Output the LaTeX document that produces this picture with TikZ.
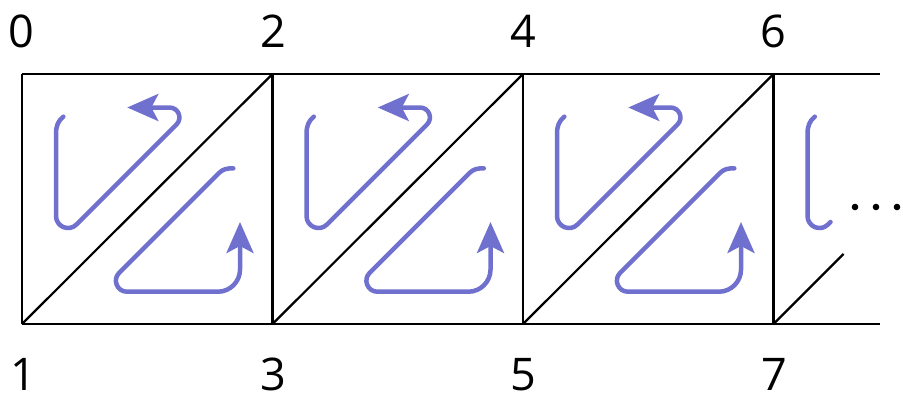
\documentclass[tikz,border=0pt]{standalone}
\usepackage{fontspec}
\setmainfont{Open Sans}
\usetikzlibrary{arrows.meta}
\definecolor{pathblue}{RGB}{112,112,206}
\begin{document}
\begin{tikzpicture}[x=1pt,y=-1pt,
  grid/.style={line width=2.2pt, black},
  flow/.style={pathblue, line width=4.5pt, line cap=round, line join=round},
  tip/.style={-{Stealth[length=31pt,width=27pt,inset=7pt]}},
  lbl/.style={font=\fontsize{45}{50}\selectfont, anchor=base, inner sep=0pt}]
\useasboundingbox (0,0) rectangle (903,399);
\coordinate (t0) at (22,74);    \coordinate (b0) at (22,324);
\coordinate (t1) at (272.5,74); \coordinate (b1) at (272.5,324);
\coordinate (t2) at (523,74);   \coordinate (b2) at (523,324);
\coordinate (t3) at (773.5,74); \coordinate (b3) at (773.5,324);
\coordinate (tend) at (880,74); \coordinate (bend) at (880,324);
\coordinate (stub) at (843.5,254);
% grid
\draw[grid] (t0) -- (tend);
\draw[grid] (b0) -- (bend);
\foreach \i in {0,1,2,3} { \draw[grid] (t\i) -- (b\i); }
\draw[grid] (b0) -- (t1);
\draw[grid] (b1) -- (t2);
\draw[grid] (b2) -- (t3);
\draw[grid] (b3) -- (stub);
% blue paths
\foreach \i in {0,1,2} {
  \begin{scope}[shift={(t\i)}]
    \draw[flow, tip] (41.3,42.7) .. controls (36,47) and (34,52) .. (34,60)
      -- (34,142) .. controls (34,152.7) and (46.9,158.1) .. (54.5,150.5)
      -- (154.5,50.5) .. controls (160.8,44.2) and (156.3,33.5) .. (147.4,33.5)
      -- (105.3,33.5);
    \draw[flow, tip] (211.3,94.3) .. controls (205,94.3) and (201,95) .. (197,99)
      -- (97.1,198.9) .. controls (90.2,205.8) and (95.1,217.7) .. (104.9,217.7)
      -- (196,217.7) .. controls (208.1,217.7) and (218,207.6) .. (218,195.7)
      -- (218,148);
  \end{scope}
}
\begin{scope}[shift={(t3)}]
  \draw[flow] (41.3,42.7) .. controls (36,47) and (34,52) .. (34,60)
      -- (34,142) .. controls (34,152.7) and (46.9,158.1) .. (54.5,150.5)
      -- (57,148);
\end{scope}
% dots
\fill[black] (855,207) circle (3.3pt);
\fill[black] (876,207) circle (3.3pt);
\fill[black] (897,207) circle (3.3pt);
% labels
\node[lbl] (n0) at (21,47) {0};
\node[lbl] (n1) at (23,390) {1};
\node[lbl] (n2) at (273,47) {2};
\node[lbl] (n3) at (273,390) {3};
\node[lbl] (n4) at (523,47) {4};
\node[lbl] (n5) at (523,390) {5};
\node[lbl] (n6) at (773,47) {6};
\node[lbl] (n7) at (774,390) {7};
\end{tikzpicture}
\end{document}
